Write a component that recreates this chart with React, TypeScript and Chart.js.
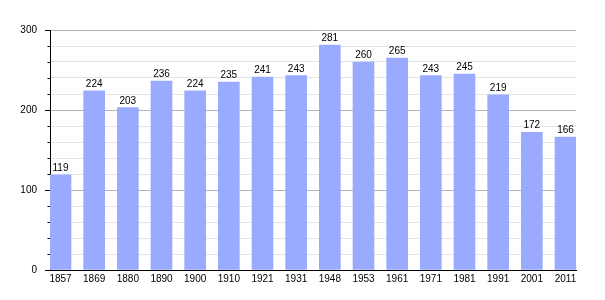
import React, { useEffect, useRef } from "react";
import { Chart, registerables } from "chart.js";

Chart.register(...registerables);

const years: string[] = ["1857", "1869", "1880", "1890", "1900", "1910", "1921", "1931", "1948", "1953", "1961", "1971", "1981", "1991", "2001", "2011"];
const population: number[] = [119, 224, 203, 236, 224, 235, 241, 243, 281, 260, 265, 243, 245, 219, 172, 166];
const yMax = 300;
const yStep = 20;

const FONT = "'Liberation Sans', Arial, Helvetica, sans-serif";

const valueLabels = {
  id: "valueLabels",
  afterDatasetsDraw(chart: any) {
    const ctx = chart.ctx;
    const meta = chart.getDatasetMeta(0);
    ctx.save();
    ctx.font = `10px ${FONT}`;
    ctx.fillStyle = "#000";
    ctx.textAlign = "center";
    ctx.textBaseline = "alphabetic";
    meta.data.forEach((bar: any, i: number) => {
      ctx.fillText(String(population[i]), bar.x, bar.y - 4);
    });
    ctx.restore();
  },
};

const yTickMarks = {
  id: "yTickMarks",
  afterDraw(chart: any) {
    const ctx = chart.ctx;
    const y = chart.scales.y;
    const left = chart.chartArea.left;
    ctx.save();
    ctx.strokeStyle = "#000";
    ctx.lineWidth = 1;
    y.ticks.forEach((t: any) => {
      const py = Math.round(y.getPixelForValue(t.value)) + 0.5;
      const len = t.value % 100 === 0 ? 5 : 2.5;
      ctx.beginPath();
      ctx.moveTo(left - len, py);
      ctx.lineTo(left, py);
      ctx.stroke();
    });
    ctx.restore();
  },
};

export default function App() {
  const ref = useRef<HTMLCanvasElement | null>(null);
  useEffect(() => {
    if (!ref.current) return;
    const half = 0.3119;
    const chart = new Chart(ref.current, {
      type: "bar",
      data: {
        datasets: [
          {
            data: population.map((v, i) => ({ x: i, y: v })),
            backgroundColor: "#9aabff",
            borderWidth: 0,
            barThickness: 21,
          },
        ],
      },
      options: {
        responsive: false,
        animation: false,
        events: [],
        layout: { padding: { top: 30, left: 0, right: 29, bottom: 0 } },
        plugins: { legend: { display: false }, tooltip: { enabled: false } },
        scales: {
          x: {
            type: "linear",
            offset: false,
            min: -half,
            max: years.length - 1 + half,
            grid: { display: false, drawTicks: false },
            border: { display: true, color: "#000", width: 1 },
            ticks: {
              stepSize: 1,
              includeBounds: false,
              autoSkip: false,
              maxRotation: 0,
              padding: 3,
              color: "#000",
              font: { family: FONT, size: 10 },
              callback: (v: any) => (Number.isInteger(v) && years[v] !== undefined ? years[v] : ""),
            },
            afterFit: (s: any) => {
              s.height = 30;
            },
          },
          y: {
            min: 0,
            max: yMax,
            grid: {
              drawTicks: false,
              color: (c: any) => (c.tick && c.tick.value % 100 === 0 ? "#b4b4b4" : "#e4e4e4"),
              lineWidth: 1,
            },
            border: { display: true, color: "#000", width: 1 },
            ticks: {
              stepSize: yStep,
              padding: 13,
              color: "#000",
              font: { family: FONT, size: 10 },
              callback: (v: any) => (v % 100 === 0 ? String(v) : ""),
            },
            afterFit: (s: any) => {
              s.width = 50;
            },
          },
        },
      },
      plugins: [valueLabels, yTickMarks],
    });
    return () => chart.destroy();
  }, []);
  return (
    <div style={{ position: "fixed", left: 0, top: 0, width: 605, height: 300, background: "#fff" }}>
      <canvas ref={ref} width={605} height={300} style={{ display: "block" }} />
    </div>
  );
}
